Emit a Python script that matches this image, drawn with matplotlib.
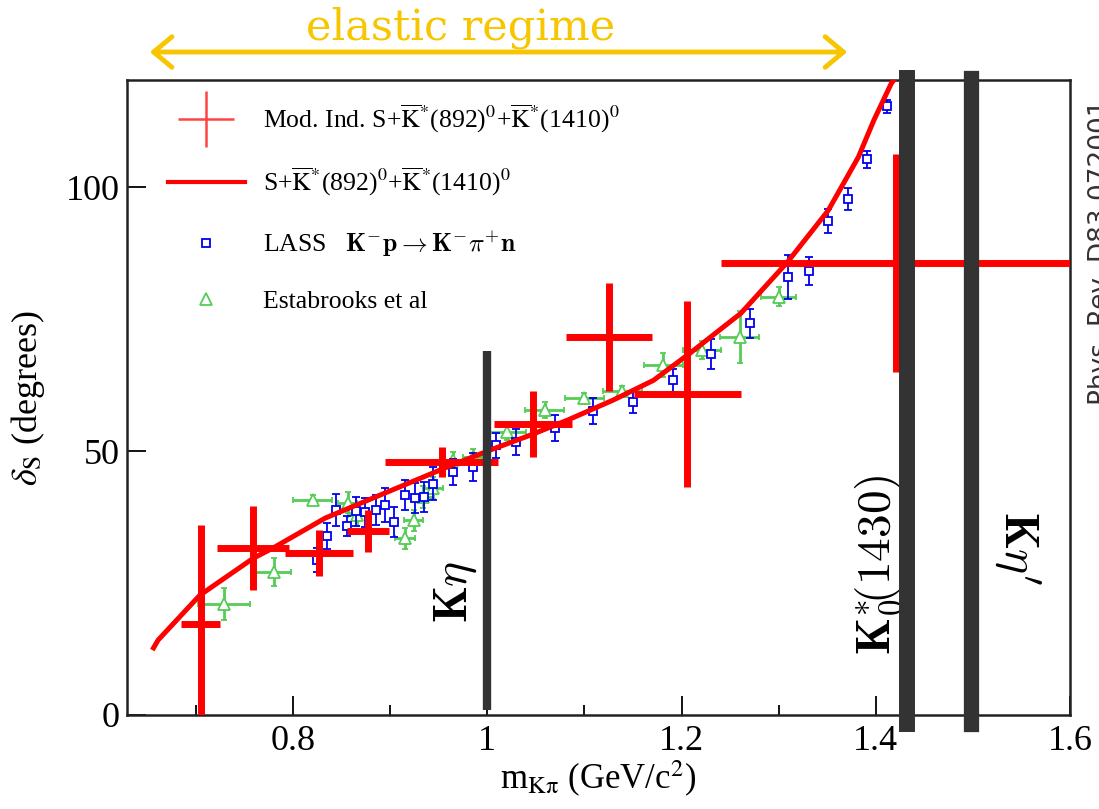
import matplotlib
matplotlib.use("Agg")
import matplotlib.pyplot as plt
from matplotlib.lines import Line2D
from matplotlib.patches import FancyArrowPatch

plt.rcParams['font.family'] = ['Liberation Serif', 'DejaVu Serif']
plt.rcParams['mathtext.fontset'] = 'stix'

# model independent S-wave phase (red crosses)
mod_x = [0.705, 0.759, 0.827, 0.877, 0.953, 1.047, 1.125, 1.206, 1.421]
mod_y = [17.2, 31.6, 30.7, 34.8, 47.9, 55.1, 71.6, 60.8, 85.6]
mod_xerr = [0.020, 0.037, 0.035, 0.022, 0.058, 0.040, 0.044, 0.055, 0.180]
mod_yerr = [18.8, 8.0, 4.4, 4.0, 2.9, 6.3, 10.2, 17.6, 20.7]

# fit curve S + K*(892) + K*(1410)
fit_x = [0.655, 0.661, 0.704, 0.759, 0.779, 0.833, 0.890, 0.959, 1.003, 1.044,
         1.083, 1.130, 1.171, 1.209, 1.261, 1.309, 1.351, 1.382, 1.398, 1.416, 1.426]
fit_y = [12.3, 14.2, 22.7, 29.7, 31.6, 37.3, 41.7, 47.0, 50.2, 53.0,
         55.9, 59.7, 63.4, 68.6, 76.1, 85.8, 95.6, 105.7, 112.7, 119.7, 122.0]

# LASS
lass_x = [0.825, 0.835, 0.844, 0.855, 0.865, 0.874, 0.885, 0.895, 0.904, 0.915,
          0.925, 0.935, 0.944, 0.965, 0.985, 1.009, 1.029, 1.070, 1.109, 1.150,
          1.191, 1.230, 1.270, 1.310, 1.331, 1.351, 1.371, 1.391, 1.411]
lass_y = [29.4, 33.9, 38.8, 35.8, 38.6, 38.4, 38.8, 39.8, 36.6, 41.7,
          41.1, 41.3, 43.8, 46.0, 47.0, 51.1, 51.7, 54.4, 57.6, 59.3,
          63.4, 68.4, 74.2, 83.0, 84.1, 93.6, 97.7, 105.3, 115.3]
lass_err = [2.3, 2.4, 3.0, 1.9, 2.7, 2.7, 2.8, 3.2, 2.8, 2.8,
            2.8, 2.9, 3.1, 2.5, 2.6, 2.4, 2.5, 2.4, 2.4, 2.0,
            2.2, 2.8, 2.8, 4.2, 2.6, 2.2, 2.1, 1.6, 1.2]

# Estabrooks et al
est_x = [0.729, 0.780, 0.820, 0.856, 0.866, 0.915, 0.924, 0.934, 0.944, 0.965,
         0.985, 1.020, 1.059, 1.100, 1.139, 1.181, 1.221, 1.260, 1.300]
est_y = [21.0, 27.1, 40.7, 40.2, 37.9, 33.5, 36.9, 41.3, 43.0, 48.3,
         48.9, 53.6, 57.8, 60.0, 61.4, 66.3, 69.1, 71.6, 79.2]
est_xerr = [0.027, 0.018, 0.020, 0.010, 0.010, 0.010, 0.010, 0.010, 0.010, 0.010,
            0.010, 0.020, 0.020, 0.020, 0.020, 0.020, 0.020, 0.020, 0.018]
est_yerr = [3.0, 2.7, 1.0, 2.0, 2.0, 2.0, 2.0, 2.0, 2.0, 1.5,
            1.5, 1.5, 1.5, 1.0, 1.0, 2.3, 1.7, 5.0, 1.8]

# thresholds / resonance
m_keta = 1.0
m_k0 = 1.432
m_ketap = 1.498

fig = plt.figure(figsize=(10.99, 8.09), dpi=100)
ax = fig.add_axes([0.1156, 0.1162, 0.8581, 0.7849])

green = '#55cc55'
ax.errorbar(est_x, est_y, xerr=est_xerr, yerr=est_yerr, fmt='^', ms=8,
            mfc='white', mec=green, mew=1.3, ecolor=green, elinewidth=2,
            capsize=2.5, capthick=2, zorder=2)
ax.errorbar(lass_x, lass_y, yerr=lass_err, fmt='s', ms=6, mfc='white',
            mec='#0000ee', mew=1.3, ecolor='#0000ee', elinewidth=1.3,
            capsize=3, capthick=1.3, zorder=3)
ax.plot(fit_x, fit_y, color='#ff0000', lw=3.6, zorder=4,
        solid_capstyle='butt', solid_joinstyle='round')
ax.errorbar(mod_x, mod_y, xerr=mod_xerr, yerr=mod_yerr, fmt='none',
            ecolor='#ff0000', elinewidth=5, capsize=0, zorder=5)

ax.vlines(m_keta, 1, 69, color='#333333', lw=6, zorder=6)
ax.axvline(m_k0, ymin=-0.014, ymax=1.003, color='#333333', lw=11.5,
           clip_on=False, zorder=6)
ax.axvline(m_ketap, ymin=-0.014, ymax=1.003, color='#333333', lw=11,
           clip_on=False, zorder=6)

ax.text(0.968, 23.3, r'$\mathbf{K}\eta$', rotation=90, fontsize=34,
        ha='center', va='center', math_fontfamily='cm')
ax.text(1.403, 28.4, r'$\mathbf{K_0^{*}\!(1430)}$', rotation=90, fontsize=34,
        ha='center', va='center', math_fontfamily='cm')
ax.text(1.546, 31.6, r"$\mathbf{K}\eta'$", rotation=-90, fontsize=34,
        ha='center', va='center', math_fontfamily='cm')

ax.set_xlim(0.629, 1.6)
ax.set_ylim(0, 120.3)
ax.set_xticks([0.8, 1.0, 1.2, 1.4, 1.6])
ax.set_xticklabels(['0.8', '1', '1.2', '1.4', '1.6'])
ax.set_xticks([0.7, 0.9, 1.1, 1.3, 1.5], minor=True)
ax.set_yticks([0, 50, 100])
ax.tick_params(direction='in', labelsize=26, length=14, width=1.3, pad=7)
ax.tick_params(axis='y', pad=5)
ax.tick_params(which='minor', direction='in', length=7, width=1.3)
for s in ax.spines.values():
    s.set_linewidth(1.8)
    s.set_color('#222222')

ax.set_xlabel(r'm$_{\rm K\pi}$ (GeV/c$^2$)', fontsize=25, labelpad=1)
ax.set_ylabel(r'$\delta_{\rm S}$ (degrees)', fontsize=26, labelpad=14)

# legend
h_mod = Line2D([], [], color='#ff4444', marker='+', ms=40, mew=1.8, ls='none')
h_fit = Line2D([], [], color='#ff0000', lw=3)
h_lass = Line2D([], [], marker='s', ms=6, mfc='white', mec='#0000ee',
                mew=1.3, ls='none')
h_est = Line2D([], [], marker='^', ms=8, mfc='white', mec=green,
               mew=1.3, ls='none')
labels = [r'Mod. Ind. S+$\overline{\rm K}^{*}$(892)$^0$+$\overline{\rm K}^{*}$(1410)$^0$',
          r'S+$\overline{\rm K}^{*}$(892)$^0$+$\overline{\rm K}^{*}$(1410)$^0$',
          r'LASS   $\mathbf{K^{-}p\rightarrow K^{-}\pi^{+}n}$',
          'Estabrooks et al']
leg = ax.legend([h_mod, h_fit, h_lass, h_est], labels, loc='upper left',
                bbox_to_anchor=(0.027, 0.988), frameon=False, fontsize=18.5,
                handlelength=3.0, handletextpad=0.7, labelspacing=1.2,
                borderaxespad=0.2)
leg.get_texts()[2].set_math_fontfamily('cm')

# slide annotations
fig.text(0.4195, 0.9506, 'elastic regime', family='DejaVu Serif',
         fontsize=31, color='#f7c600', ha='center', va='baseline')
arr = FancyArrowPatch((0.1338, 0.9357), (0.7735, 0.9357),
                      transform=fig.transFigure,
                      arrowstyle='<->,head_length=0.6,head_width=0.5',
                      mutation_scale=22, lw=3.5, color='#f7c600')
fig.patches.append(arr)

fig.text(1.0085, 0.6885, 'Phys. Rev. D83 072001', family='DejaVu Sans',
         fontsize=19, color='#333333', rotation=90, rotation_mode='anchor',
         ha='center', va='baseline')

fig.savefig('out.png', dpi=100)
